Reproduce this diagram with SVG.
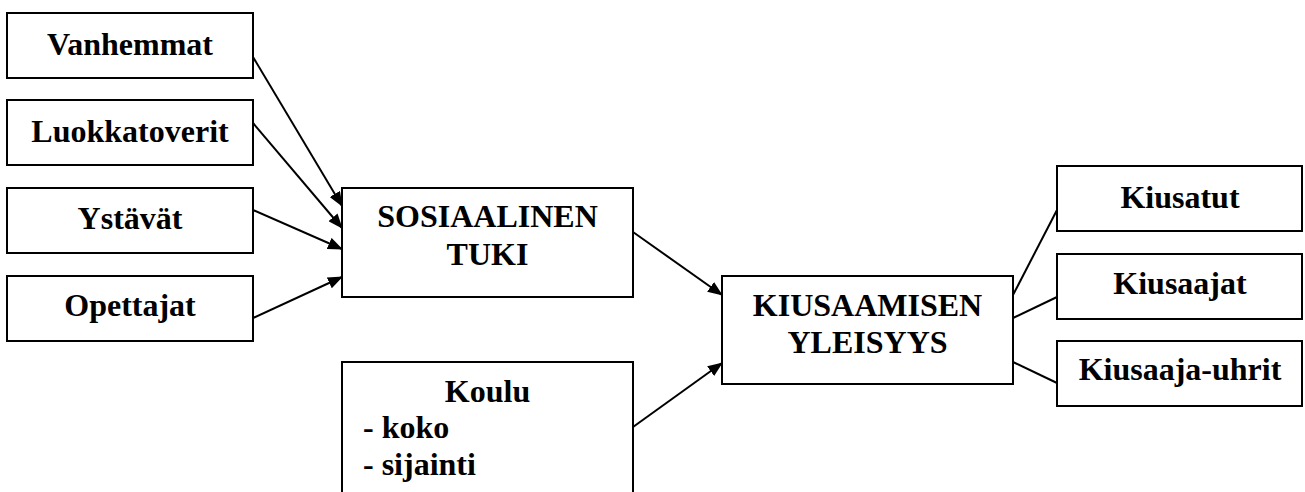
<svg xmlns="http://www.w3.org/2000/svg" width="1305" height="492" viewBox="0 0 1305 492">
<defs>
<style>
.box{fill:#fff;stroke:#000;stroke-width:2}
.t{font-family:"Liberation Serif","Times New Roman",serif;font-weight:bold;font-size:32px;fill:#000}
.c{text-anchor:middle}
.ln{stroke:#000;stroke-width:2;fill:none}
</style>
<marker id="ah" markerWidth="15" markerHeight="12" refX="14" refY="6" orient="auto" markerUnits="userSpaceOnUse">
<path d="M0,0 L15,6 L0,12 Z" fill="#000"/>
</marker>
</defs>
<rect width="1305" height="492" fill="#fff"/>
<g id="connectors">
<line class="ln" x1="253" y1="57" x2="342" y2="206" marker-end="url(#ah)"/>
<line class="ln" x1="253" y1="123" x2="342" y2="228" marker-end="url(#ah)"/>
<line class="ln" x1="253" y1="210" x2="342" y2="249" marker-end="url(#ah)"/>
<line class="ln" x1="253" y1="318" x2="342" y2="277" marker-end="url(#ah)"/>
<line class="ln" x1="633" y1="232" x2="722" y2="295" marker-end="url(#ah)"/>
<line class="ln" x1="633" y1="427" x2="722" y2="363" marker-end="url(#ah)"/>
<line class="ln" x1="1013" y1="295" x2="1057" y2="210"/>
<line class="ln" x1="1013" y1="318" x2="1057" y2="297"/>
<line class="ln" x1="1013" y1="362" x2="1057" y2="383"/>
</g>
<g id="vanhemmat"><rect class="box" x="7" y="13" width="246" height="65"/><text class="t c" x="130" y="55">Vanhemmat</text></g>
<g id="luokkatoverit"><rect class="box" x="7" y="100" width="246" height="65"/><text class="t c" x="130" y="142">Luokkatoverit</text></g>
<g id="ystavat"><rect class="box" x="7" y="188" width="246" height="65"/><text class="t c" x="130" y="229">Ystävät</text></g>
<g id="opettajat"><rect class="box" x="7" y="276" width="246" height="65"/><text class="t c" x="130" y="316">Opettajat</text></g>
<g id="sosiaalinen"><rect class="box" x="342" y="188" width="291" height="109"/><text class="t c" x="487.5" y="227">SOSIAALINEN</text><text class="t c" x="487.5" y="265">TUKI</text></g>
<g id="koulu"><rect class="box" x="342" y="362" width="291" height="140"/><text class="t c" x="487.5" y="402">Koulu</text><text class="t" x="363" y="438">- koko</text><text class="t" x="363" y="475">- sijainti</text></g>
<g id="kiusaamisen"><rect class="box" x="722" y="276" width="291" height="108"/><text class="t c" x="867.5" y="316">KIUSAAMISEN</text><text class="t c" x="867.5" y="353">YLEISYYS</text></g>
<g id="kiusatut"><rect class="box" x="1057" y="166" width="245" height="65"/><text class="t c" x="1180" y="208">Kiusatut</text></g>
<g id="kiusaajat"><rect class="box" x="1057" y="254" width="245" height="65"/><text class="t c" x="1180" y="294">Kiusaajat</text></g>
<g id="kiusaaja-uhrit"><rect class="box" x="1057" y="341" width="245" height="65"/><text class="t c" x="1180" y="380">Kiusaaja-uhrit</text></g>
</svg>
